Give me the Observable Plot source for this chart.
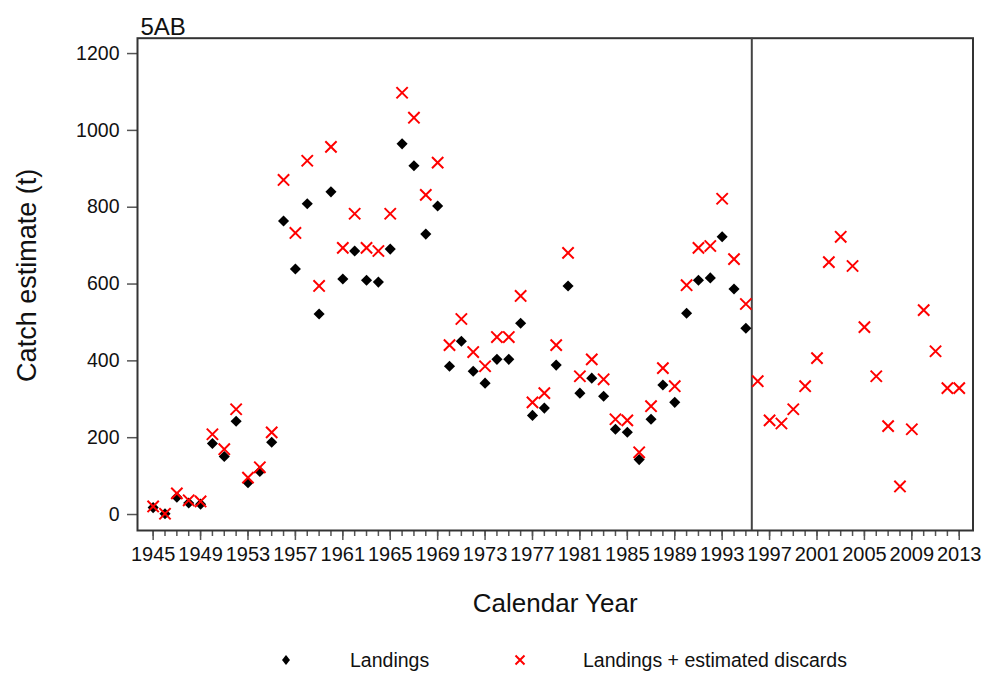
<!DOCTYPE html>
<html><head><meta charset="utf-8">
<script src="https://cdn.jsdelivr.net/npm/d3@7"></script>
<script src="https://cdn.jsdelivr.net/npm/@observablehq/plot@0.6"></script>
<style>
html,body{margin:0;padding:0;background:#fff;}
#wrap{position:relative;width:982px;height:674px;font-family:"Liberation Sans",Arial,sans-serif;color:#111;}
#chart svg{display:block;}
.lg{position:absolute;top:648px;height:24px;line-height:24px;font-size:19.5px;white-space:nowrap;}
.lg svg{display:block;}
</style></head><body>
<div id="wrap"><div id="chart"></div>
<div id="legend">
  <div class="lg" style="left:280px;top:654px;height:12px;"><svg width="12" height="12"><path d="M6,1L10,6L6,11L2,6Z" fill="#000"/></svg></div>
  <div class="lg" style="left:350px;">Landings</div>
  <div class="lg" style="left:514px;top:654px;height:12px;"><svg width="12" height="12"><path d="M1.5,1.5L10.5,10.5M1.5,10.5L10.5,1.5" stroke="#f00" stroke-width="2" fill="none"/></svg></div>
  <div class="lg" style="left:583px;">Landings + estimated discards</div>
</div></div>
<script>
const title = "5AB";
const yLabel = "Catch estimate (t)";
const xLabel = "Calendar Year";

const landingYears = [1945,1946,1947,1948,1949,1950,1951,1952,1953,1954,
  1955,1956,1957,1958,1959,1960,1961,1962,1963,1964,
  1965,1966,1967,1968,1969,1970,1971,1972,1973,1974,
  1975,1976,1977,1978,1979,1980,1981,1982,1983,1984,
  1985,1986,1987,1988,1989,1990,1991,1992,1993,1994,1995];
const landings = [18,2,45,30,27,185,151,243,83,112,
  188,764,639,809,522,840,613,686,610,605,
  691,965,908,730,803,386,451,373,342,404,
  404,498,258,277,389,595,316,355,308,222,
  214,143,248,337,292,524,610,616,723,587,485];

const totalYears = [1945,1946,1947,1948,1949,1950,1951,1952,1953,1954,
  1955,1956,1957,1958,1959,1960,1961,1962,1963,1964,
  1965,1966,1967,1968,1969,1970,1971,1972,1973,1974,
  1975,1976,1977,1978,1979,1980,1981,1982,1983,1984,
  1985,1986,1987,1988,1989,1990,1991,1992,1993,1994,
  1995,1996,1997,1998,1999,2000,2001,2002,2003,2004,
  2005,2006,2007,2008,2009,2010,2011,2012,2013];
const totals = [21,2,55,37,34,209,170,274,96,123,
  214,871,733,921,595,957,694,783,694,686,
  783,1098,1033,832,916,441,509,423,386,462,
  462,569,292,316,441,681,360,404,352,248,
  245,162,282,381,334,597,694,699,822,665,
  548,347,245,237,274,334,407,657,723,647,
  488,360,230,73,222,532,425,329,329];

const yTicks = [0,200,400,600,800,1000,1200];
const xTickLabels = [1945,1949,1953,1957,1961,1965,1969,1973,1977,1981,1985,1989,1993,1997,2001,2005,2009,2013];
const separatorYear = 1995.5;

const landingData = landingYears.map((y,i)=>({year:y, value:landings[i]}));
const totalData = totalYears.map((y,i)=>({year:y, value:totals[i]}));

const chart = Plot.plot({
  width: 982,
  height: 640,
  marginLeft: 137,
  marginRight: 9.5,
  marginTop: 37.7,
  marginBottom: 110,
  style: {fontFamily: '"Liberation Sans", Arial, sans-serif', fontSize: "19px", background: "#fff", color: "#111"},
  x: {domain: [1943.68, 2014.16], axis: null},
  y: {domain: [-41.6, 1240], axis: null},
  marks: [
    Plot.axisX({ticks: totalYears, tickSize: 6, tickFormat: () => "", label: null, stroke: "#555", strokeWidth: 1.5}),
    Plot.axisX({ticks: xTickLabels, tickSize: 10, tickPadding: 6, tickFormat: d => String(d), label: null, fontSize: 20, stroke: "#555", strokeWidth: 1.5, fill: "#111"}),
    Plot.axisY({ticks: yTicks, tickSize: 10, tickPadding: 8, tickFormat: d => String(d), label: null, fontSize: 19.5, stroke: "#555", strokeWidth: 1.5, fill: "#111"}),
    Plot.frame({stroke: "#333", strokeWidth: 2}),
    Plot.ruleX([separatorYear], {stroke: "#444", strokeWidth: 2}),
    Plot.dot(landingData, {x: "year", y: "value", symbol: "diamond2", r: 5, fill: "#000", stroke: "none"}),
    Plot.dot(totalData, {x: "year", y: "value", symbol: "times", r: 5.2, stroke: "#f00", strokeWidth: 2, fill: "none"}),
    Plot.text([title], {frameAnchor: "top-left", textAnchor: "start", dx: 3, dy: -20, fontSize: 24, fill: "#111"}),
    Plot.text([xLabel], {frameAnchor: "bottom", textAnchor: "middle", dy: 81, fontSize: 26, fill: "#111"}),
    Plot.text([yLabel], {frameAnchor: "left", textAnchor: "middle", rotate: -90, dx: -110, dy: -9, fontSize: 27, fill: "#111"})
  ]
});
document.getElementById("chart").appendChild(chart);
</script>
</body></html>
